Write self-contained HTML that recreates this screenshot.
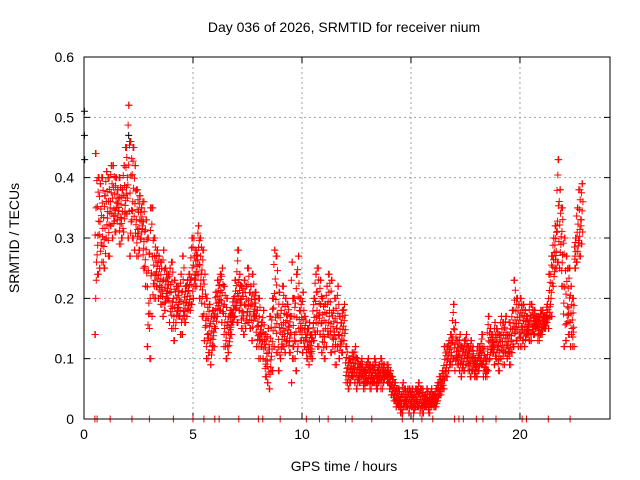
<!DOCTYPE html>
<html><head><meta charset="utf-8"><style>
body{margin:0;background:#fff;}
svg{display:block;font-family:"Liberation Sans",sans-serif;}
</style></head><body>
<svg id="chart" width="640" height="480" viewBox="0 0 640 480">
<rect x="0" y="0" width="640" height="480" fill="#fff"/>
<text x="344" y="32" font-size="14" text-anchor="middle">Day 036 of 2026, SRMTID for receiver nium</text>
<text transform="translate(19,238) rotate(-90)" font-size="14" text-anchor="middle">SRMTID / TECUs</text>
<text x="344" y="471" font-size="14" text-anchor="middle">GPS time / hours</text>
<g id="grid"></g>
<g id="axes"></g>
<g id="marks"></g>
<rect x="84" y="57" width="526" height="362" fill="none" stroke="#000" stroke-width="1"/>
</svg>
<script>
const xTicks=[0,5,10,15,20];
const yTicks=[0,0.1,0.2,0.3,0.4,0.5,0.6];
const yTickLabels=["0","0.1","0.2","0.3","0.4","0.5","0.6"];
const startHour=0.5;
const stepHour=0.1;
const hiVals=[.44,.40,.39,.40,.37,.41,.40,.42,.42,.40,.38,.40,.38,.42,.45,.52,.46,.45,.42,.38,.37,.35,.36,.33,.30,.35,.35,.30,.28,.27,.26,.28,.25,.24,.25,.26,.23,.22,.22,.24,.27,.22,.23,.24,.30,.30,.28,.32,.30,.28,.24,.20,.19,.17,.18,.21,.23,.24,.25,.22,.20,.17,.18,.20,.23,.28,.24,.22,.23,.22,.25,.22,.24,.21,.18,.20,.16,.18,.14,.15,.17,.20,.28,.27,.21,.18,.22,.20,.19,.17,.26,.20,.24,.27,.20,.21,.17,.15,.16,.14,.20,.24,.25,.23,.20,.19,.22,.24,.23,.18,.20,.22,.17,.18,.19,.12,.10,.10,.11,.12,.10,.09,.10,.08,.09,.10,.09,.09,.10,.08,.09,.10,.09,.08,.09,.08,.07,.06,.05,.05,.04,.06,.05,.05,.05,.05,.04,.05,.06,.05,.05,.04,.05,.04,.05,.04,.05,.06,.07,.08,.12,.12,.13,.14,.19,.16,.13,.14,.12,.13,.14,.12,.13,.12,.10,.12,.12,.14,.12,.10,.17,.15,.14,.16,.15,.14,.17,.16,.17,.14,.16,.18,.23,.20,.19,.20,.19,.18,.17,.19,.19,.18,.17,.17,.18,.18,.17,.19,.24,.27,.30,.32,.43,.38,.35,.30,.27,.25,.22,.20,.30,.35,.38,.39];
const loVals=[.14,.24,.25,.26,.25,.30,.27,.32,.30,.31,.33,.29,.30,.31,.34,.30,.27,.30,.28,.27,.28,.30,.25,.22,.12,.10,.17,.20,.22,.20,.19,.17,.18,.20,.16,.15,.13,.16,.17,.14,.14,.16,.17,.18,.19,.20,.22,.24,.20,.17,.13,.10,.11,.09,.12,.15,.17,.18,.16,.12,.10,.11,.14,.16,.17,.16,.18,.15,.14,.15,.16,.15,.13,.17,.12,.10,.12,.10,.07,.06,.05,.08,.12,.11,.08,.10,.12,.11,.13,.11,.06,.10,.08,.12,.13,.11,.12,.10,.09,.10,.13,.14,.12,.14,.11,.10,.12,.14,.11,.12,.09,.12,.10,.11,.13,.06,.05,.06,.07,.06,.05,.06,.07,.05,.06,.06,.05,.06,.06,.05,.06,.05,.06,.07,.06,.05,.04,.03,.02,.02,.01,.01,.02,.02,.01,.02,.01,.02,.02,.01,.01,.02,.02,.01,.02,.02,.02,.03,.04,.05,.05,.07,.08,.09,.10,.08,.09,.08,.07,.08,.09,.08,.07,.08,.07,.07,.08,.09,.07,.07,.08,.10,.11,.09,.10,.08,.10,.09,.11,.10,.09,.11,.12,.13,.12,.12,.13,.12,.14,.13,.13,.14,.15,.13,.14,.14,.15,.16,.15,.17,.22,.25,.26,.25,.22,.12,.13,.14,.12,.12,.25,.26,.27,.29];
const blackTimes=[0.02,0.02,0.03,2.05,2.1,12.9];
const blackVals=[0.51,0.47,0.43,0.47,0.46,0.08];
const zeroTimes=[0.5,0.6,1.2,2.2,3.0,4.1,5.0,5.5,6.0,6.2,7.1,8.0,8.2,9.0,10.2,10.8,11.2,12.0,12.3,13.2,14.6,15.1,15.5,16.0,17.0,17.2,17.4,18.0,18.3,18.9,20.1,20.3,21.3,22.3];

const NS="http://www.w3.org/2000/svg";
const X0=84,X1=610,Y0=419,Y1=57,XMAX=24.13,YMAX=0.6;
function xs(v){return X0+(X1-X0)*v/XMAX;}
function ys(v){return Y0-(Y0-Y1)*v/YMAX;}
const grid=document.getElementById('grid'),axes=document.getElementById('axes'),marks=document.getElementById('marks');
function mk(tag,attrs,parent){const e=document.createElementNS(NS,tag);for(const k in attrs)e.setAttribute(k,attrs[k]);parent.appendChild(e);return e;}
yTicks.forEach((t,i)=>{
  const y=ys(t);
  if(i>0&&i<yTicks.length-1){const g=mk('line',{x1:X0,x2:X1,y1:y,y2:y,stroke:'#a0a0a0','stroke-dasharray':'2,3'},grid);
  
  }
  const tk=mk('path',{d:`M${X0} ${y}h6M${X1} ${y}h-6`,stroke:'#000'},axes);
  
  
  const tx=mk('text',{x:X0-10,y:y+5,'font-size':14,'text-anchor':'end'},axes);
  tx.textContent=yTickLabels[i];
  
  
});
xTicks.forEach(t=>{
  const x=xs(t);
  if(t>0){const g=mk('line',{x1:x,x2:x,y1:Y0,y2:Y1,stroke:'#a0a0a0','stroke-dasharray':'2,3'},grid);
  
  }
  const tk=mk('path',{d:`M${x} ${Y0}v-6M${x} ${Y1}v6`,stroke:'#000'},axes);
  
  
  const tx=mk('text',{x:x,y:Y0+20,'font-size':14,'text-anchor':'middle'},axes);
  tx.textContent=String(t);
  
  
});
function plus(t,v,color,name){
  const x=xs(t),y=ys(v);
  const p=mk('path',{d:`M${x-3.5} ${y}h7M${x} ${y-3.5}v7`,stroke:color,'stroke-width':1},marks);
  
  
}
blackTimes.forEach((t,i)=>plus(t,blackVals[i],'#000','black-point'));
const fracs=[0,0.2,0.4,0.55,0.7,0.85,1,0.3];
hiVals.forEach((h,i)=>{
  const lo=loVals[i];
  for(let k=0;k<8;k++){
    const t=startHour+i*stepHour+k*stepHour/8;
    const f=fracs[(k*3+i)%8];
    plus(t,lo+(h-lo)*f,'#ff0000','srmtid-point');
  }
  plus(startHour+i*stepHour+stepHour*0.5,h,'#ff0000','srmtid-point');
  plus(startHour+i*stepHour+stepHour*0.2,lo,'#ff0000','srmtid-point');
});
zeroTimes.forEach(t=>plus(t,0,'#ff0000','zero-flag-point'));
</script>
</body></html>
